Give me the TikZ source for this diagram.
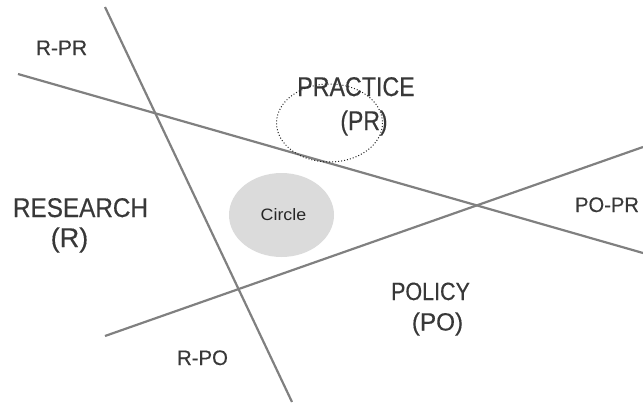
\documentclass[tikz,border=0pt]{standalone}
\usepackage{fontspec}
\setmainfont{Liberation Sans}
\newfontfamily\heavysans{Liberation Sans}[FakeBold=0.4]
\begin{document}
\begin{tikzpicture}[x=1pt,y=-1pt,
  divline/.style={draw=black!50, line width=2.2pt},
  lbl/.style={anchor=base, inner sep=0pt, text=black!78},
  small/.style={lbl, font=\heavysans\fontsize{21}{21}\selectfont},
  big/.style={lbl, font=\heavysans\fontsize{27}{27}\selectfont},
]
\useasboundingbox (0,0) rectangle (643,405);
% line end points
\coordinate (a1) at (105,7);
\coordinate (a2) at (292,402);
\coordinate (b1) at (18,74);
\coordinate (b2) at (643,253);
\coordinate (c1) at (105,336);
\coordinate (c2) at (643,147);
\draw[divline] (a1) -- (a2);
\draw[divline] (b1) -- (b2);
\draw[divline] (c1) -- (c2);
% gray circle
\fill[black!14] (281.5,215) ellipse [x radius=52.5, y radius=42];
\node[lbl, font=\fontsize{16.5}{16.5}\selectfont, xscale=1.08, text=black!85] (circ) at (283.5,220) {Circle};
% labels
\node[small] (rpr) at (61.5,55) {R-PR};
\node[small, xscale=0.96] (popr) at (607,212) {PO-PR};
\node[small, xscale=0.97] (rpo) at (202.5,365) {R-PO};
\node[big, xscale=0.86] (pr) at (356,96) {PRACTICE};
\node[big, xscale=0.85] (prs) at (364,130) {(PR)};
\node[big, xscale=0.9] (r) at (80.5,217) {RESEARCH};
\node[big, xscale=1.0] (rs) at (69.5,247) {(R)};
\node[big, xscale=0.86, font=\heavysans\fontsize{25}{25}\selectfont] (po) at (430.5,300) {POLICY};
\node[big, xscale=0.97, font=\heavysans\fontsize{25}{25}\selectfont] (pos) at (437.5,330.5) {(PO)};
% dotted ellipse
\draw[black!85, dotted, line width=1pt] (329.5,123) ellipse [x radius=53, y radius=39];
\end{tikzpicture}
\end{document}
